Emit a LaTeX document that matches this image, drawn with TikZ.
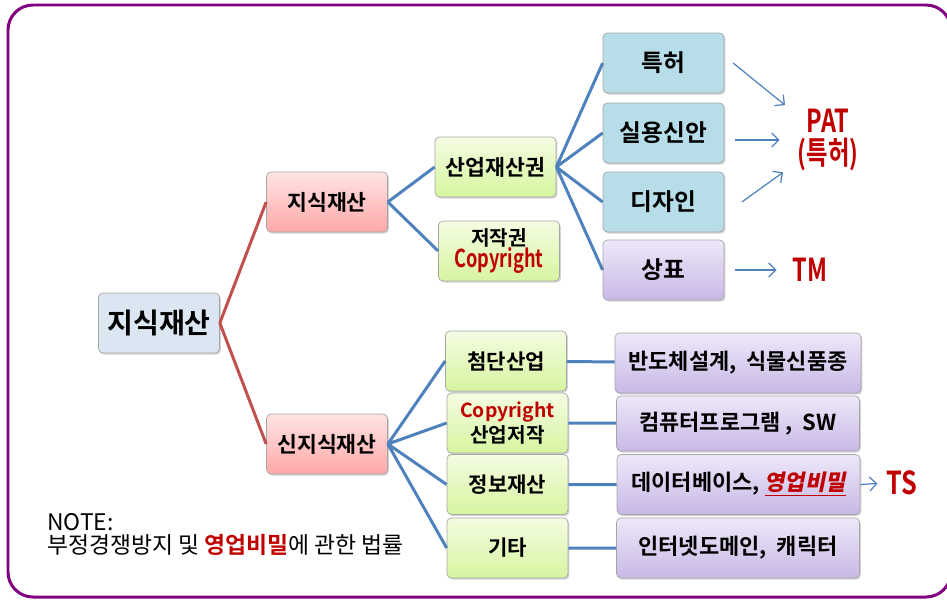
\documentclass[tikz,border=0pt]{standalone}
\usepackage{fontspec}
\setmainfont{Noto Sans CJK KR}[BoldFont={Noto Sans CJK KR Bold}]
\newfontfamily\slantkr{Noto Sans CJK KR Bold}[FakeSlant=0.2]
\usetikzlibrary{arrows.meta,shadows}

\definecolor{framepurple}{RGB}{128,0,128}
\definecolor{linkred}{RGB}{192,80,77}
\definecolor{linkblue}{RGB}{79,129,189}
\definecolor{darkred}{RGB}{192,0,0}
\definecolor{rootblue}{RGB}{220,230,242}
\definecolor{pinktop}{RGB}{255,228,228}
\definecolor{pinkbot}{RGB}{255,168,168}
\definecolor{greentop}{RGB}{244,252,226}
\definecolor{greenbot}{RGB}{214,245,160}
\definecolor{boxblue}{RGB}{183,221,232}
\definecolor{purptop}{RGB}{238,232,249}
\definecolor{purpbot}{RGB}{200,184,230}

\tikzset{
  box/.style={draw=gray!70, rounded corners=2.5pt, minimum width=2.42cm,
    minimum height=1.2cm, inner sep=1pt, align=center,
    font=\fontsize{12}{14}\selectfont\bfseries,
    drop shadow={shadow xshift=0.8pt, shadow yshift=-0.9pt, opacity=0.35}},
  rootbox/.style={box, fill=rootblue, font=\fontsize{16}{18}\selectfont\bfseries},
  pinkbox/.style={box, top color=pinktop, bottom color=pinkbot,
    font=\fontsize{12.3}{14}\selectfont\bfseries},
  greenbox/.style={box, top color=greentop, bottom color=greenbot},
  bluebox/.style={box, fill=boxblue, font=\fontsize{13.5}{15}\selectfont\bfseries},
  purplebox/.style={box, top color=purptop, bottom color=purpbot,
    font=\fontsize{13.5}{15}\selectfont\bfseries},
  widebox/.style={box, top color=purptop, bottom color=purpbot,
    minimum width=4.86cm, font=\fontsize{12.5}{14}\selectfont\bfseries},
  redlink/.style={draw=linkred, line width=1.7pt},
  bluelink/.style={draw=linkblue, line width=1.7pt},
  arr/.style={-{Straight Barb[length=4pt,width=8pt]}, draw=linkblue, line width=0.7pt},
  tag/.style={text=darkred, inner sep=0pt, align=center,
    font=\fontsize{18}{18}\selectfont\bfseries}
}
\newcommand{\narrow}[1]{\scalebox{0.74}[1]{#1}}

\begin{document}
\begin{tikzpicture}[x=0.02cm, y=-0.02cm]
  \useasboundingbox (0,0) rectangle (947,599);
  \draw[framepurple, line width=1.7pt, rounded corners=0.5cm] (8,5) rectangle (951,597);

  % left part
  \node[rootbox] (root) at (159,323) {지식재산};
  \node[pinkbox] (jisik) at (327,202) {지식재산};
  \node[pinkbox] (sinjisik) at (327,444) {신지식재산};
  \draw[redlink] (root.east) -- (jisik.west)
    (root.east) -- (sinjisik.west);

  % upper branch
  \node[greenbox, font=\fontsize{11.5}{13}\selectfont\bfseries] (sanup) at (495.5,167)
    {\fontsize{12.3}{14}\selectfont 산업재산권};
  \node[greenbox, font=\fontsize{11.5}{13}\selectfont\bfseries] (jeojak) at (499,251)
    {저작권\\{\fontsize{14}{13}\selectfont\color{darkred}\narrow{Copyright}}};
  \draw[bluelink] (jisik.east) -- (sanup.west)
    (jisik.east) -- (jeojak.west);

  \node[bluebox] (teukheo) at (663.5,63) {특허};
  \node[bluebox] (silyong) at (663.5,133) {실용신안};
  \node[bluebox] (design) at (663.5,202) {디자인};
  \node[purplebox] (sangpyo) at (663.5,270) {상표};
  \draw[bluelink] (sanup.east) -- (teukheo.west)
    (sanup.east) -- (silyong.west)
    (sanup.east) -- (design.west)
    (sanup.east) -- (sangpyo.west);

  \node[tag] (pat) at (828,140) {\narrow{PAT}\\\narrow{(특허)}};
  \node[tag] (tm) at (810,270) {\narrow{TM}};
  \draw[arr, shorten >=9pt] ([xshift=5pt]teukheo.east) -- (pat);
  \draw[arr, shorten <=6pt, shorten >=10pt] (silyong.east |- pat) -- (pat.west);
  \draw[arr, shorten >=10pt] ([xshift=10pt]design.east) -- (pat);
  \draw[arr, shorten <=6pt, shorten >=9pt] (sangpyo.east) -- (tm.west);

  % lower branch
  \node[greenbox] (cheomdan) at (506,361) {첨단산업};
  \node[greenbox, font=\fontsize{11.5}{14.5}\selectfont\bfseries] (sanupjeojak) at (507.5,423)
    {{\fontsize{11}{12}\selectfont\color{darkred}Copyright}\\산업저작};
  \node[greenbox] (jeongbo) at (507.5,484.5) {정보재산};
  \node[greenbox] (gita) at (507.5,548) {기타};
  \draw[bluelink] (sinjisik.east) -- (cheomdan.west)
    (sinjisik.east) -- (sanupjeojak.west)
    (sinjisik.east) -- (jeongbo.west)
    (sinjisik.east) -- (gita.west);

  \node[widebox, minimum width=4.92cm] (bando) at (738,363) {반도체설계,\ \ 식물신품종};
  \node[widebox, minimum height=1.1cm] (computer) at (738,423.5) {컴퓨터프로그램 ,\ \ SW};
  \node[widebox] (data) at (738.5,484.5)
    {데이터베이스, {\slantkr\color{darkred}\underline{영업비밀}}};
  \node[widebox] (internet) at (738,548) {인터넷도메인,\ \ 캐릭터};
  \draw[bluelink] (cheomdan) -- (bando)
    (sanupjeojak) -- (computer)
    (jeongbo) -- (data)
    (gita) -- (internet);

  \node[tag] (ts) at (902,483) {\scalebox{0.8}[1]{TS}};
  \draw[arr, shorten >=5pt] (data.east) -- (ts.west);

  \node[anchor=north west, align=left, inner sep=0pt,
    font=\fontsize{13}{13}\selectfont] (note) at (47,513)
    {NOTE:\\부정경쟁방지 및 {\bfseries\color{darkred}영업비밀}에 관한 법률};
\end{tikzpicture}
\end{document}
